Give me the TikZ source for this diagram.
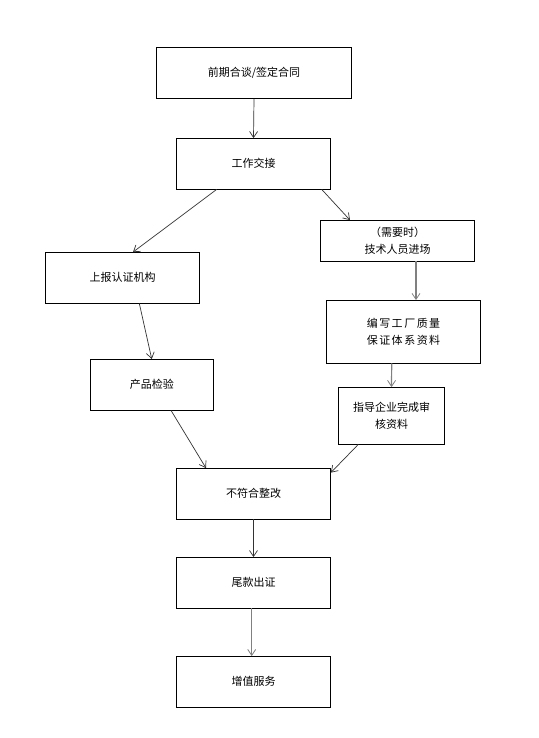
\documentclass[tikz,border=0pt]{standalone}
\usepackage{fontspec}
\setmainfont{Noto Sans CJK SC}
\usetikzlibrary{arrows.meta}
\begin{document}
\begin{tikzpicture}[x=1pt,y=-1pt,
  box/.style={draw=black,line width=0.8pt,inner sep=0pt,align=center,
    font=\fontsize{11pt}{17pt}\selectfont},
  arr/.style={draw=black!80,line width=0.7pt,-{Straight Barb[length=6pt,width=8pt]}},
  garr/.style={draw=black!50,line width=1.2pt,-{Straight Barb[length=6pt,width=8pt,line width=0.8pt]}}]
\useasboundingbox (0,0) rectangle (538,738);
\fill[white] (0,0) rectangle (538,738);
\node[box,minimum width=195pt,minimum height=51pt] (b1) at (254,73) {前期合谈/签定合同};
\node[box,minimum width=154pt,minimum height=50.5pt] (b2) at (253.5,163.75) {工作交接};
\node[box,minimum width=154pt,minimum height=40.5pt] (b3) at (397.5,240.75) {（需要时）\\技术人员进场};
\node[box,minimum width=154pt,minimum height=50.5pt] (b4) at (122.5,277.75) {上报认证机构};
\node[box,minimum width=154pt,minimum height=62.5pt] (b5) at (403.5,331.75) {编\kern1.5pt 写\kern1.5pt 工\kern1.5pt 厂\kern1.5pt 质\kern1.5pt 量\\保\kern1.5pt 证\kern1.5pt 体\kern1.5pt 系\kern1.5pt 资\kern1.5pt 料};
\node[box,minimum width=122.5pt,minimum height=50.5pt] (b6) at (151.75,384.75) {产品检验};
\node[box,minimum width=106pt,minimum height=56.5pt] (b7) at (391.5,415.75) {指导企业完成审\\核资料};
\node[box,minimum width=154pt,minimum height=50.5pt] (b8) at (253.5,493.75) {不符合整改};
\node[box,minimum width=154pt,minimum height=50.5pt] (b9) at (253.5,582.75) {尾款出证};
\node[box,minimum width=154pt,minimum height=50.5pt] (b10) at (253.5,681.75) {增值服务};
\draw[arr] (b1.south) -- (b2.north);
\draw[arr] ([xshift=-36.8pt]b2.south) -- ([xshift=10.5pt]b4.north);
\draw[arr] ([xshift=68.2pt]b2.south) -- ([xshift=-47.5pt]b3.north);
\draw[arr] ([xshift=16.8pt]b4.south) -- (b6.north);
\draw[garr] ([xshift=18.5pt]b3.south) -- ([xshift=12.5pt]b5.north);
\draw[garr] ([xshift=-11.8pt]b5.south) -- (b7.north);
\draw[arr] ([xshift=19.25pt]b6.south) -- ([xshift=-47.5pt]b8.north);
\draw[arr] ([xshift=-33.2pt]b7.south) -- ([yshift=-4.5pt]b8.north east);
\draw[arr] (b8.south) -- (b9.north);
\draw[garr] ([xshift=-1.8pt]b9.south) -- ([xshift=-1.8pt]b10.north);
\end{tikzpicture}
\end{document}
